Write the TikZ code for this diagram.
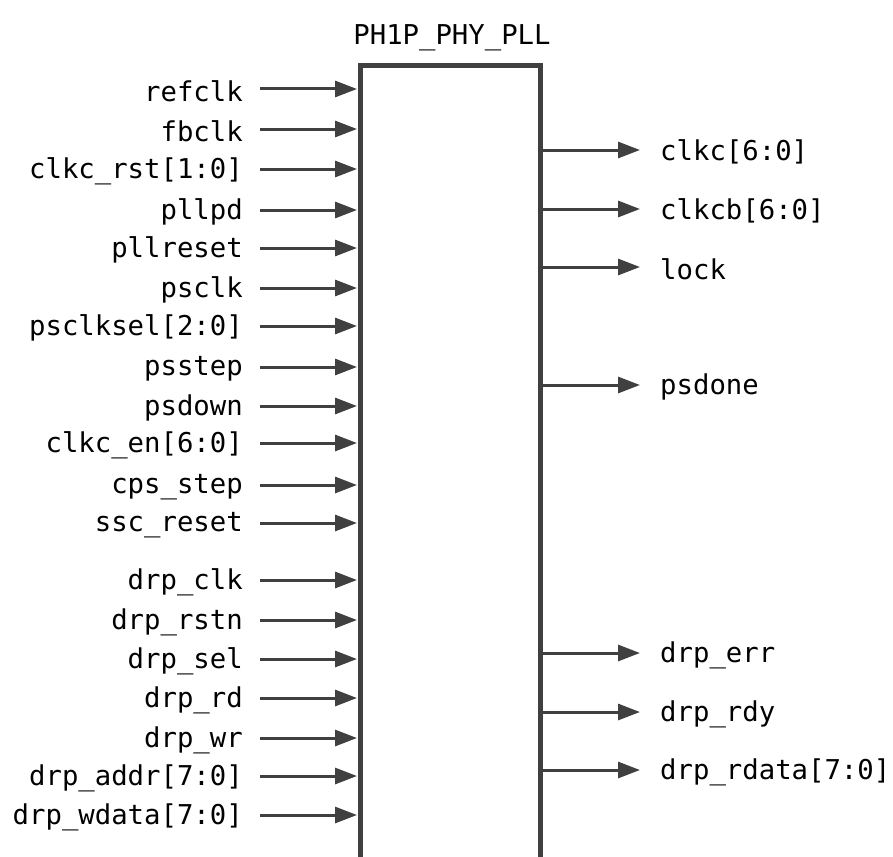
\documentclass[tikz,border=0pt]{standalone}
\usepackage{fontspec}
\setmonofont{DejaVu Sans Mono}
\usetikzlibrary{arrows.meta}
\definecolor{dk}{HTML}{404040}
\begin{document}
\begin{tikzpicture}[x=1pt,y=-1pt,
  sig/.style={font=\ttfamily\fontsize{27.3}{27}\selectfont,text=black,inner sep=0pt,yshift=-2pt},
  pin/.style={draw=dk,line width=3pt,-{Triangle[length=22pt,width=16pt]}}]
\useasboundingbox (0,0) rectangle (893,856);
\draw[dk,line width=5pt] (360,66) rectangle (540,870);
\node[sig] (title) at (452,36) {PH1P\_PHY\_PLL};
\foreach \t/\y [count=\i] in {refclk/89,fbclk/129,clkc\_rst[1:0]/169,pllpd/210,pllreset/248,psclk/288,psclksel[2:0]/326,psstep/367,psdown/406,clkc\_en[6:0]/443,cps\_step/485,ssc\_reset/523,drp\_clk/580,drp\_rstn/620,drp\_sel/659,drp\_rd/698,drp\_wr/738,drp\_addr[7:0]/776,drp\_wdata[7:0]/815}{
  \node[sig,anchor=east] (l\i) at (243,\y) {\t};
  \coordinate (ls\i) at (260,\y);
  \coordinate (le\i) at (357,\y);
  \draw[pin] (ls\i) -- (le\i);
}
\foreach \t/\y [count=\i] in {clkc[6:0]/150,clkcb[6:0]/209,lock/267,psdone/385,drp\_err/653,drp\_rdy/712,drp\_rdata[7:0]/770}{
  \node[sig,anchor=west] (r\i) at (660,\y) {\t};
  \coordinate (rs\i) at (542,\y);
  \coordinate (re\i) at (640,\y);
  \draw[pin] (rs\i) -- (re\i);
}
\end{tikzpicture}
\end{document}
